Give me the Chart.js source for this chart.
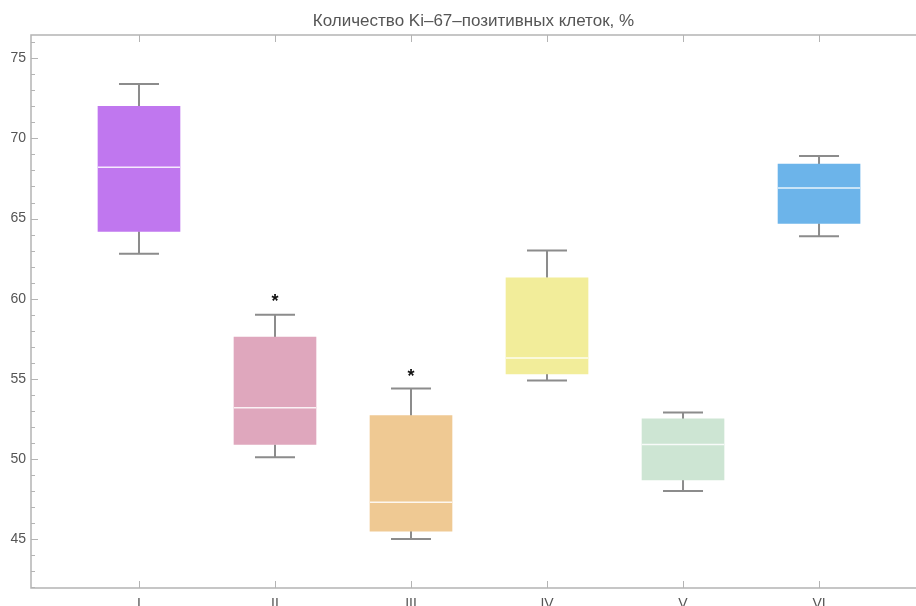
<!DOCTYPE html>
<html>
<head>
<meta charset="utf-8">
<script src="https://cdn.jsdelivr.net/npm/chart.js@4"></script>
<style>
  body { margin: 0; background: #fff; }
  #wrap { width: 916px; height: 606px; }
</style>
</head>
<body>
<div id="wrap"><canvas id="graph1" width="916" height="606"></canvas></div>
<script>
const categories = ['I', 'II', 'III', 'IV', 'V', 'VI'];
const whiskerLow = [62.8, 50.1, 45.0, 54.9, 48.0, 63.9];
const q1 = [64.2, 50.9, 45.5, 55.3, 48.7, 64.7];
const medians = [68.2, 53.2, 47.3, 56.3, 50.9, 66.9];
const q3 = [72.0, 57.6, 52.7, 61.3, 52.5, 68.4];
const whiskerHigh = [73.4, 59.0, 54.4, 63.0, 52.9, 68.9];
const starAt = [null, 60.0, 55.3, null, null, null];
const yTicks = [45, 50, 55, 60, 65, 70, 75];
const boxColors = ['#c077ef', '#dfa7bd', '#efc993', '#f2ed9a', '#cde5d3', '#6cb4ea'];
const titleText = 'Количество Ki–67–позитивных клеток, %';

const axisColor = '#b4b4b4';
const labelColor = '#555';
const fontFamily = "'Liberation Sans', Arial, sans-serif";

const boxExtras = {
  id: 'boxExtras',
  beforeDatasetsDraw(chart) {
    const ctx = chart.ctx, x = chart.scales.x, y = chart.scales.y;
    ctx.save();
    ctx.strokeStyle = '#8c8c8c';
    ctx.lineWidth = 2;
    categories.forEach((c, i) => {
      const px = x.getPixelForValue(i + 1);
      const lo = y.getPixelForValue(whiskerLow[i]);
      const hi = y.getPixelForValue(whiskerHigh[i]);
      ctx.beginPath();
      ctx.moveTo(px, lo); ctx.lineTo(px, y.getPixelForValue(q1[i]));
      ctx.moveTo(px, hi); ctx.lineTo(px, y.getPixelForValue(q3[i]));
      ctx.moveTo(px - 20, lo); ctx.lineTo(px + 20, lo);
      ctx.moveTo(px - 20, hi); ctx.lineTo(px + 20, hi);
      ctx.stroke();
    });
    ctx.restore();
  },
  afterDatasetsDraw(chart) {
    const ctx = chart.ctx, x = chart.scales.x, y = chart.scales.y;
    ctx.save();
    ctx.strokeStyle = 'rgba(255,255,255,0.85)';
    ctx.lineWidth = 1.5;
    categories.forEach((c, i) => {
      const px = x.getPixelForValue(i + 1);
      const m = y.getPixelForValue(medians[i]);
      ctx.beginPath();
      ctx.moveTo(px - 41, m); ctx.lineTo(px + 41, m);
      ctx.stroke();
      if (starAt[i] != null) {
        ctx.fillStyle = '#111';
        ctx.font = 'bold 18px ' + fontFamily;
        ctx.textAlign = 'center';
        ctx.textBaseline = 'middle';
        ctx.fillText('*', px, y.getPixelForValue(starAt[i]) + 3);
      }
    });
    ctx.restore();
  },
  afterDraw(chart) {
    const ctx = chart.ctx, x = chart.scales.x, y = chart.scales.y;
    const a = chart.chartArea;
    ctx.save();
    ctx.strokeStyle = axisColor;
    ctx.lineWidth = 1.5;
    ctx.beginPath();
    ctx.moveTo(a.right, a.top); ctx.lineTo(a.left, a.top);
    ctx.lineTo(a.left, a.bottom); ctx.lineTo(a.right, a.bottom);
    ctx.stroke();
    ctx.lineWidth = 1;
    ctx.beginPath();
    categories.forEach((c, i) => {
      const px = Math.round(x.getPixelForValue(i + 1)) + 0.5;
      ctx.moveTo(px, a.top); ctx.lineTo(px, a.top + 7);
      ctx.moveTo(px, a.bottom); ctx.lineTo(px, a.bottom - 7);
    });
    for (let v = Math.ceil(y.min); v <= y.max; v++) {
      const py = Math.round(y.getPixelForValue(v)) + 0.5;
      ctx.moveTo(a.left, py);
      ctx.lineTo(a.left + (v % 5 === 0 ? 7 : 4), py);
    }
    ctx.stroke();
    ctx.fillStyle = labelColor;
    ctx.font = '17px ' + fontFamily;
    ctx.textAlign = 'center';
    ctx.textBaseline = 'middle';
    ctx.fillText(titleText, (a.left + a.right) / 2, 21);
    ctx.restore();
  }
};

const dataGraph1 = {
  datasets: [{
    label: 'Ki-67',
    data: categories.map((c, i) => ({ x: i + 1, y: [q1[i], q3[i]] })),
    backgroundColor: boxColors,
    borderWidth: 0,
    barThickness: 82,
    grouped: false
  }]
};

const configGraph1 = {
  type: 'bar',
  data: dataGraph1,
  plugins: [boxExtras],
  options: {
    responsive: false,
    animation: false,
    layout: { padding: { top: 35, right: 0, left: 0, bottom: 0 } },
    plugins: {
      legend: { display: false },
      title: { display: false },
      tooltip: { enabled: false }
    },
    scales: {
      x: {
        type: 'linear',
        offset: false,
        min: 0.206,
        max: 6.713,
        afterBuildTicks: (s) => { s.ticks = categories.map((c, i) => ({ value: i + 1 })); },
        afterFit: (s) => { s.height = 18; },
        grid: { display: false, drawTicks: false, offset: false },
        border: { display: false },
        ticks: {
          padding: 8,
          color: labelColor,
          font: { size: 14, family: fontFamily },
          callback: (v) => categories[v - 1],
          maxRotation: 0,
          autoSkip: false
        }
      },
      y: {
        min: 41.95,
        max: 76.45,
        afterBuildTicks: (s) => { s.ticks = yTicks.map(v => ({ value: v })); },
        afterFit: (s) => { s.width = 31; },
        grid: { display: false, drawTicks: false },
        border: { display: false },
        ticks: {
          padding: 5,
          color: labelColor,
          font: { size: 14, family: fontFamily }
        }
      }
    }
  }
};

let graph1Visible = new Chart(document.getElementById('graph1'), configGraph1);
</script>
</body>
</html>
